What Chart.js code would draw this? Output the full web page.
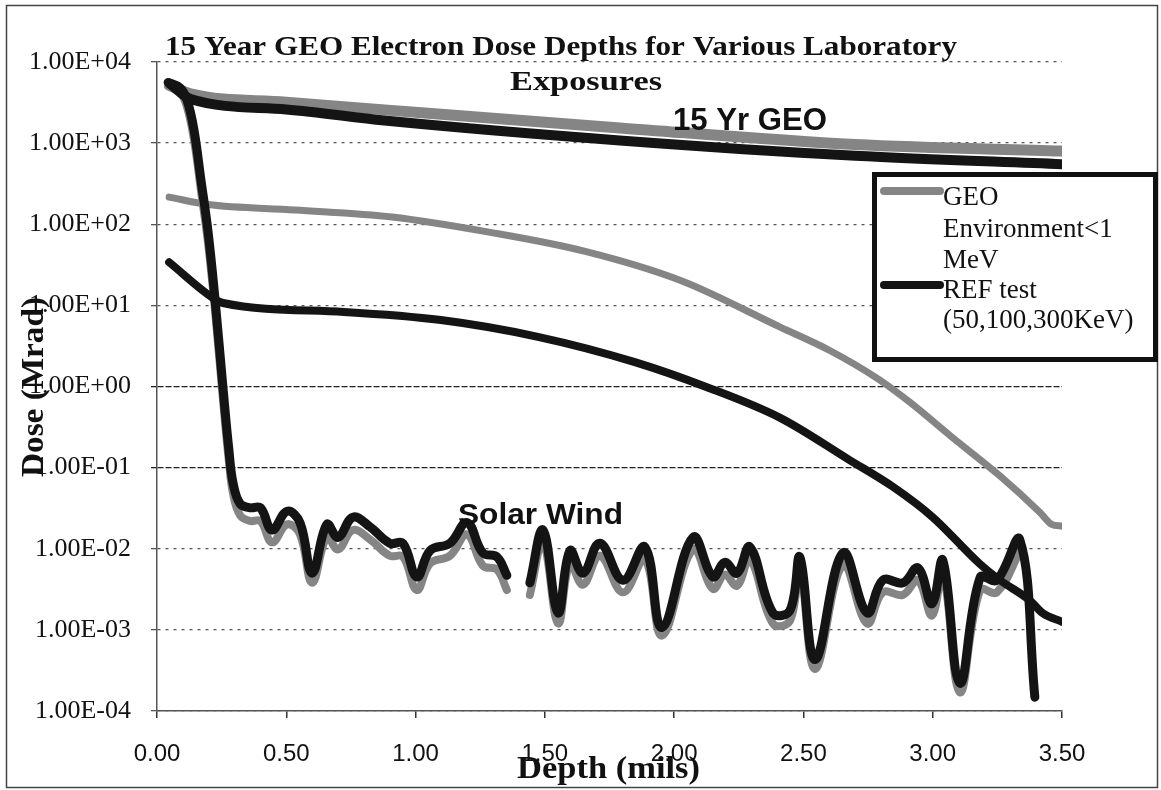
<!DOCTYPE html>
<html><head><meta charset="utf-8">
<script src="https://cdn.jsdelivr.net/npm/chart.js@4/dist/chart.umd.min.js"></script>
<style>html,body{margin:0;padding:0;background:#fff;}#wrap{width:1161px;height:790px;}</style>
</head><body><div id="wrap"><canvas id="c" width="1161" height="790"></canvas></div>
<script>
// ---- data (Depth in mils, Dose in Mrad) ----
const geo15X = [0.05, 0.13, 0.5, 0.88, 1.79, 2.70, 3.5];
const geo15Y = [5200, 4050, 3200, 2570, 1540, 960, 800];
const ref15X = [0.05, 0.13, 0.5, 0.88, 1.79, 2.70, 3.5];
const ref15Y = [5400, 3500, 2600, 1900, 1080, 700, 550];

const geoMidX = [0.047, 0.197, 0.534, 0.909, 1.284, 1.66, 2.03, 2.41, 2.60, 2.784, 2.912, 3.066, 3.26, 3.415, 3.46, 3.5];
const geoMidY = [216, 175, 150, 123, 80, 46, 20, 5.4, 2.8, 1.27, 0.64, 0.25, 0.079, 0.028, 0.020, 0.019];
const refMidX = [0.047, 0.217, 0.255, 0.723, 1.098, 1.473, 1.848, 2.127, 2.41, 2.68, 2.846, 3.0, 3.18, 3.26, 3.376, 3.426, 3.5];
const refMidY = [34, 12.3, 10.7, 8.3, 6.6, 4.1, 2.0, 0.98, 0.41, 0.123, 0.058, 0.0245, 0.0066, 0.0041, 0.0023, 0.0016, 0.00126];

const swRefX = [0.043, 0.089, 0.116, 0.143, 0.170, 0.197, 0.224, 0.255, 0.278, 0.294, 0.321, 0.36, 0.40, 0.445, 0.503, 0.553, 0.60, 0.657, 0.70, 0.758, 0.824, 0.90, 0.951, 1.005, 1.056, 1.133, 1.199, 1.26, 1.315, 1.353,
  1.40,
  1.442, 1.493, 1.551, 1.597, 1.647, 1.713, 1.802, 1.887, 1.953, 2.073, 2.15, 2.196, 2.243, 2.293, 2.382, 2.448, 2.486, 2.545, 2.653, 2.746, 2.807, 2.885, 2.943, 2.997, 3.039, 3.105, 3.183, 3.248, 3.337, 3.395];
const swRefY = [5600, 4800, 3400, 1450, 350, 83, 12.3, 0.98, 0.166, 0.065, 0.036, 0.032, 0.032, 0.017, 0.029, 0.021, 0.005, 0.020, 0.0138, 0.0245, 0.0186, 0.0117, 0.0117, 0.0045, 0.0095, 0.0117, 0.021, 0.0089, 0.0079, 0.0047,
  null,
  0.0038, 0.017, 0.00162, 0.0095, 0.005, 0.0117, 0.0041, 0.0105, 0.00107, 0.0138, 0.0045, 0.0068, 0.005, 0.0105, 0.00162, 0.00174, 0.0079, 0.00043, 0.0089, 0.00162, 0.0041, 0.0038, 0.0058, 0.0021, 0.0072, 0.00022, 0.0044, 0.0041, 0.0129, 0.000148];

const swGeoX = [0.043, 0.089, 0.116, 0.143, 0.170, 0.197, 0.224, 0.255, 0.278, 0.294, 0.321, 0.36, 0.40, 0.445, 0.503, 0.553, 0.60, 0.657, 0.70, 0.758, 0.824, 0.90, 0.951, 1.005, 1.056, 1.133, 1.199, 1.26, 1.315, 1.353,
  1.40,
  1.442, 1.493, 1.551, 1.597, 1.647, 1.713, 1.802, 1.887, 1.953, 2.073, 2.15, 2.196, 2.243, 2.293, 2.382, 2.448, 2.486, 2.545, 2.653, 2.746, 2.807, 2.885, 2.943, 2.997, 3.039, 3.105, 3.183, 3.248, 3.337];
const swGeoY = [5000, 4200, 2800, 1100, 260, 60, 9, 0.7, 0.12, 0.048, 0.026, 0.022, 0.022, 0.012, 0.020, 0.015, 0.0038, 0.014, 0.0098, 0.017, 0.013, 0.0082, 0.0080, 0.0031, 0.0066, 0.0082, 0.015, 0.0062, 0.0055, 0.0031,
  null,
  0.0027, 0.012, 0.0012, 0.0066, 0.0036, 0.0082, 0.0029, 0.0074, 0.00085, 0.0098, 0.0032, 0.0048, 0.0035, 0.0074, 0.0012, 0.0013, 0.0056, 0.00033, 0.0063, 0.0012, 0.0029, 0.0027, 0.0041, 0.0015, 0.0051, 0.00017, 0.0031, 0.0029, 0.0092];

const yTickValues = [1e-4, 1e-3, 1e-2, 1e-1, 1e0, 1e1, 1e2, 1e3, 1e4];
const titleLines = ['15 Year GEO Electron Dose Depths for Various Laboratory', 'Exposures'];
const legendLines = [['GEO', 'Environment<1', 'MeV'], ['REF test', '(50,100,300KeV)']];
const annotations = ['15 Yr GEO', 'Solar Wind'];
const xTitle = 'Depth (mils)';
const yTitle = 'Dose (Mrad)';

// ---- helpers ----
const zip = (xs, ys) => xs.map((x, i) => ({x: x, y: ys[i]}));
const BLACK = '#141414', GRAY = '#858585';
function fmtE(v) {
  const e = Math.round(Math.log10(v));
  return '1.00E' + (e < 0 ? '-' : '+') + String(Math.abs(e)).padStart(2, '0');
}
function fitText(ctx, text, x, y, w, font, rot) {
  ctx.save();
  ctx.font = font; ctx.fillStyle = '#111'; ctx.textAlign = 'left'; ctx.textBaseline = 'alphabetic';
  const m = ctx.measureText(text).width;
  ctx.translate(x, y);
  if (rot) ctx.rotate(rot);
  if (w) ctx.scale(w / m, 1);
  ctx.fillText(text, 0, 0);
  ctx.restore();
}
function ds(label, xs, ys, color, width, smooth) {
  const d = {label: label, data: zip(xs, ys), borderColor: color, backgroundColor: color, borderWidth: width,
    pointRadius: 0, fill: false, spanGaps: false, borderCapStyle: 'round', borderJoinStyle: 'round'};
  if (smooth) { d.tension = smooth; } else { d.cubicInterpolationMode = 'monotone'; }
  return d;
}

const overlay = {
  id: 'overlay',
  beforeDraw(chart) {
    const ctx = chart.ctx; ctx.save(); ctx.fillStyle = '#fff'; ctx.fillRect(0, 0, chart.width, chart.height); ctx.restore();
  },
  afterDraw(chart) {
    const ctx = chart.ctx;
    ctx.save();
    ctx.strokeStyle = '#444'; ctx.lineWidth = 1.5;
    ctx.strokeRect(6.5, 5.5, 1151, 782);
    ctx.restore();
    fitText(ctx, titleLines[0], 165, 55, 792, 'bold 28px "Liberation Serif"');
    fitText(ctx, titleLines[1], 510, 90, 152, 'bold 27px "Liberation Serif"');
    fitText(ctx, annotations[0], 673, 130, 154, 'bold 32px "Liberation Sans"');
    fitText(ctx, annotations[1], 458, 524, 165, 'bold 30px "Liberation Sans"');
    fitText(ctx, xTitle, 517, 778, 183, 'bold 31px "Liberation Serif"');
    fitText(ctx, yTitle, 43, 477, 180, 'bold 32px "Liberation Serif"', -Math.PI / 2);
    // legend
    ctx.save();
    ctx.fillStyle = '#fff'; ctx.fillRect(872, 172, 286, 190);
    ctx.strokeStyle = '#111'; ctx.lineWidth = 5; ctx.strokeRect(874.5, 174.5, 281, 185);
    const dsets = chart.data.datasets;
    const cols = [dsets[4].borderColor, dsets[1].borderColor];
    const ys = [191, 285];
    ctx.lineCap = 'round';
    for (let i = 0; i < 2; i++) {
      ctx.strokeStyle = cols[i]; ctx.lineWidth = 8;
      ctx.beginPath(); ctx.moveTo(884, ys[i]); ctx.lineTo(940, ys[i]); ctx.stroke();
    }
    ctx.restore();
    const base = [[205, 237, 268], [298, 328]];
    for (let i = 0; i < 2; i++) for (let j = 0; j < legendLines[i].length; j++)
      fitText(ctx, legendLines[i][j], 943, base[i][j], 0, '27px "Liberation Serif"');
  }
};

new Chart(document.getElementById('c'), {
  type: 'line',
  data: {
    datasets: [
      ds('REF test Solar Wind', swRefX, swRefY, BLACK, 9, 0.4),
      ds(legendLines[1].join(' '), refMidX, refMidY, BLACK, 8),
      ds('REF test 15 Yr GEO', ref15X, ref15Y, BLACK, 10),
      ds('GEO Solar Wind', swGeoX, swGeoY, GRAY, 8, 0.4),
      ds(legendLines[0].join(' '), geoMidX, geoMidY, GRAY, 7),
      ds('GEO 15 Yr GEO', geo15X, geo15Y, GRAY, 11)
    ]
  },
  options: {
    responsive: false, animation: false, devicePixelRatio: 1,
    layout: {padding: {left: 0, top: 62, right: 99, bottom: 0}},
    plugins: {legend: {display: false}, title: {display: false}, tooltip: {enabled: false}},
    scales: {
      x: {
        type: 'linear', min: 0, max: 3.5,
        afterFit: s => { s.height = 79; },
        ticks: {stepSize: 0.5, padding: 22, color: '#111', font: {family: '"Liberation Sans"', size: 24},
          callback: v => Number(v).toFixed(2), maxRotation: 0, autoSkip: false},
        grid: {drawOnChartArea: false, drawTicks: true, tickLength: 7, color: '#333', lineWidth: 1.5},
        border: {display: true, color: '#555', width: 1.5}
      },
      y: {
        type: 'logarithmic', min: 1e-4, max: 1e4,
        afterFit: s => { s.width = 157; },
        afterBuildTicks: s => { s.ticks = yTickValues.map(v => ({value: v})); },
        ticks: {padding: 20, color: '#111', font: {family: '"Liberation Serif"', size: 26},
          callback: v => fmtE(v), autoSkip: false},
        grid: {drawTicks: true, tickLength: 6, lineWidth: 1.3,
          color: c => { const v = c.tick && c.tick.value; return (v === 1 || v === 0.1) ? '#222' : '#555'; }},
        border: {display: true, color: '#555', width: 1.5,
          dash: c => { const v = c.tick && c.tick.value; return (v === 1 || v === 0.1) ? [6, 2] : [3, 5]; }}
      }
    }
  },
  plugins: [overlay]
});
</script></body></html>
